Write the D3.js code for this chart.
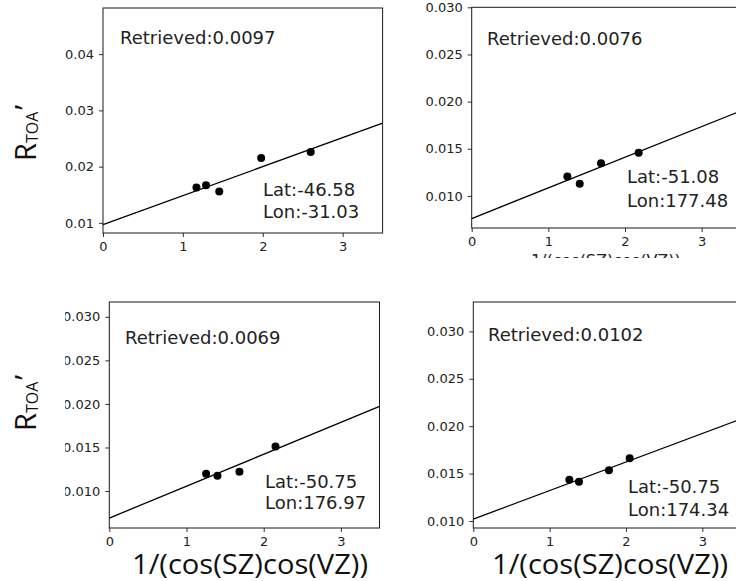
<!DOCTYPE html>
<html>
<head>
<meta charset="utf-8">
<script src="https://cdn.jsdelivr.net/npm/d3@7"></script>
<style>
  html, body { margin: 0; padding: 0; background: #fff; }
  svg { display: block; }
  .tick text { font-family: "DejaVu Sans", sans-serif; font-size: 13px; }
</style>
</head>
<body>
<svg id="fig" width="736" height="581"></svg>
<script>
// Intercept (retrieved surface reflectance) and slope of each fitted line
const retrieved = [0.0097, 0.0076, 0.0069, 0.0102];
const slopes = [0.00515, 0.00325, 0.00366, 0.00301];
const lats = ["-46.58", "-51.08", "-50.75", "-50.75"];
const lons = ["-31.03", "177.48", "176.97", "174.34"];

// Air-mass factor 1/(cos(SZ)cos(VZ)) and R_TOA' for each site
const airmassA = [1.17, 1.29, 1.455, 1.98, 2.60];
const rtoaA = [0.01627, 0.01668, 0.01556, 0.02154, 0.02261];
const airmassB = [1.248, 1.409, 1.687, 2.178];
const rtoaB = [0.01207, 0.01129, 0.01346, 0.01457];
const airmassC = [1.254, 1.401, 1.686, 2.153];
const rtoaC = [0.01198, 0.01176, 0.01221, 0.01511];
const airmassD = [1.258, 1.384, 1.777, 2.048];
const rtoaD = [0.01436, 0.01415, 0.01535, 0.01663];

const xTicks = [0, 1, 2, 3];
const yTicksCoarse = [0.01, 0.02, 0.03, 0.04];
const yTicksFine = [0.010, 0.015, 0.020, 0.025, 0.030];
const xDomain = [0, 3.5];
const xLabel = "1/(cos(SZ)cos(VZ))";

const airmass = [airmassA, airmassB, airmassC, airmassD];
const rtoa = [rtoaA, rtoaB, rtoaC, rtoaD];
const yTicks = [yTicksCoarse, yTicksFine, yTicksFine, yTicksFine];
const yFormats = [".2f", ".3f", ".3f", ".3f"];

// Panel placement on the page
const panels = [
  { x0: 103, x1: 382.6, y0: 8, y1: 233, ylim: [0.0082, 0.0482],
    ret: [120, 37], lat: [263, 189, 211], ylab: 161, bigX: null, smallX: false, clipLeft: null },
  { x0: 471.7, x1: 740, y0: 7.3, y1: 228, ylim: [0.0066, 0.0300],
    ret: [487, 38], lat: [627, 176, 200], ylab: null, bigX: null, smallX: true, clipLeft: null },
  { x0: 109.3, x1: 379.5, y0: 302, y1: 528, ylim: [0.00576, 0.0317],
    ret: [125, 337], lat: [265, 481, 502.5], ylab: 431, bigX: 250, smallX: false, clipLeft: 65 },
  { x0: 473.3, x1: 740.5, y0: 302, y1: 528, ylim: [0.00926, 0.0331],
    ret: [488, 334], lat: [628, 486, 509], ylab: null, bigX: 610, smallX: false, clipLeft: null }
];

const svg = d3.select("#fig");
svg.append("rect").attr("width", 736).attr("height", 581).attr("fill", "#fff");
const defs = svg.append("defs");

const ink = "#1a1a1a";
const tickFont = "DejaVu Sans, sans-serif";

panels.forEach((p, i) => {
  const x = d3.scaleLinear().domain(xDomain).range([p.x0, p.x1]);
  const y = d3.scaleLinear().domain(p.ylim).range([p.y1, p.y0]);
  const g = svg.append("g");

  // Y axis; the lower-left panel's label column is trimmed on its left side
  const yAxisG = g.append("g")
    .attr("transform", `translate(${p.x0},0)`)
    .call(d3.axisLeft(y).tickValues(yTicks[i]).tickFormat(d3.format(yFormats[i]))
      .tickSize(4).tickPadding(5));
  if (p.clipLeft !== null) {
    defs.append("clipPath").attr("id", "clipY" + i)
      .append("rect").attr("x", p.clipLeft - p.x0).attr("y", 0)
      .attr("width", 736).attr("height", 581);
    yAxisG.attr("clip-path", `url(#clipY${i})`);
  }

  const xAxisG = g.append("g")
    .attr("transform", `translate(0,${p.y1})`)
    .call(d3.axisBottom(x).tickValues(xTicks).tickFormat(d3.format("d"))
      .tickSize(4).tickPadding(5));

  [yAxisG, xAxisG].forEach(a => {
    a.attr("font-size", 13).attr("font-family", tickFont);
    a.select(".domain").remove();
    a.selectAll(".tick line").attr("stroke", ink).attr("stroke-width", 0.9);
    a.selectAll(".tick text").attr("fill", "#222");
  });

  // Axes frame
  g.append("rect")
    .attr("x", p.x0).attr("y", p.y0)
    .attr("width", p.x1 - p.x0).attr("height", p.y1 - p.y0)
    .attr("fill", "none").attr("stroke", ink).attr("stroke-width", 1);

  // Fitted line: intercept is the retrieved value
  const fit = xDomain.map(v => [v, retrieved[i] + slopes[i] * v]);
  g.append("path")
    .datum(fit)
    .attr("d", d3.line().x(d => x(d[0])).y(d => y(d[1])))
    .attr("fill", "none").attr("stroke", "#000").attr("stroke-width", 1.3);

  // Observations
  g.selectAll("circle.obs")
    .data(d3.zip(airmass[i], rtoa[i]))
    .join("circle")
    .attr("class", "obs")
    .attr("cx", d => x(d[0])).attr("cy", d => y(d[1]))
    .attr("r", 4).attr("fill", "#000");

  // Annotations
  const txt = (tx, ty, s) => g.append("text")
    .attr("x", tx).attr("y", ty + 6.5)
    .attr("fill", "#222")
    .attr("font-family", tickFont).attr("font-size", 18)
    .text(s);
  txt(p.ret[0], p.ret[1], "Retrieved:" + d3.format(".4f")(retrieved[i]));
  txt(p.lat[0], p.lat[1], "Lat:" + lats[i]);
  txt(p.lat[0], p.lat[2], "Lon:" + lons[i]);

  // Y label R_TOA'
  if (p.ylab !== null) {
    const t = svg.append("text")
      .attr("transform", `translate(36,${p.ylab}) rotate(-90)`)
      .attr("fill", "#111")
      .attr("font-family", "Open Sans, sans-serif");
    t.append("tspan").attr("font-size", 29).text("R");
    t.append("tspan").attr("font-size", 16).attr("dy", 2).text("TOA");
    t.append("tspan").attr("font-size", 29).attr("dy", -2).attr("dx", 2).text("\u2019");
  }

  // Large x label
  if (p.bigX !== null) {
    svg.append("text")
      .attr("x", p.bigX).attr("y", 574)
      .attr("text-anchor", "middle")
      .attr("fill", "#111")
      .attr("textLength", 236).attr("lengthAdjust", "spacingAndGlyphs")
      .attr("font-family", "Open Sans, sans-serif").attr("font-size", 28)
      .text(xLabel);
  }

  // Axis title that is cut off below the top-right panel
  if (p.smallX) {
    defs.append("clipPath").attr("id", "clipX" + i)
      .append("rect").attr("x", 0).attr("y", 0).attr("width", 736).attr("height", 258);
    svg.append("text")
      .attr("x", (p.x0 + p.x1) / 2).attr("y", 266)
      .attr("text-anchor", "middle")
      .attr("fill", "#222")
      .attr("clip-path", `url(#clipX${i})`)
      .attr("font-family", tickFont).attr("font-size", 16)
      .text(xLabel);
  }
});
</script>
</body>
</html>
